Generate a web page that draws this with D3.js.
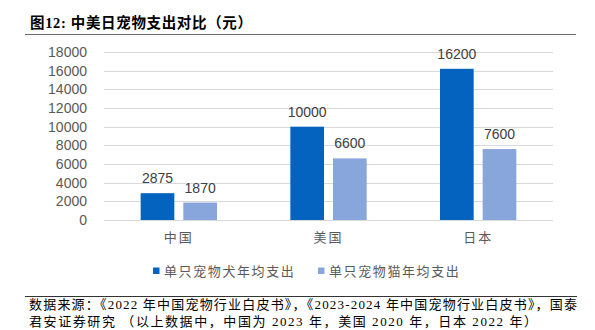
<!DOCTYPE html>
<html><head><meta charset="utf-8">
<script src="https://cdn.jsdelivr.net/npm/d3@7"></script>
<style>
html,body{margin:0;padding:0;background:#fff;}
svg{display:block;}
</style></head>
<body>
<svg id="c" width="595" height="330"></svg>
<script>
const categories = ["中国", "美国", "日本"];
const seriesNames = ["单只宠物犬年均支出", "单只宠物猫年均支出"];
const dogValues = [2875, 10000, 16200];
const catValues = [1870, 6600, 7600];
const yTicks = [0, 2000, 4000, 6000, 8000, 10000, 12000, 14000, 16000, 18000];
const colors = ["#0563C0", "#88A6DC"];
const titleText = "图12:  中美日宠物支出对比（元）";
const sourceLines = [
  "数据来源：《2022 年中国宠物行业白皮书》，《2023-2024 年中国宠物行业白皮书》，国泰",
  "君安证券研究 （以上数据中，中国为 2023 年，美国 2020 年，日本 2022 年）"
];

const svg = d3.select("#c");
const cjkSerif = "'Liberation Serif','Noto Sans CJK SC',serif";
const cjk = "'Noto Sans CJK SC',sans-serif";

// title
svg.append("text").attr("x", 30).attr("y", 28)
  .attr("font-family", cjkSerif).attr("font-weight", "bold")
  .attr("font-size", 14.5).attr("fill", "#000")
  .attr("textLength", 222).attr("lengthAdjust", "spacing").text(titleText);
svg.append("line").attr("x1", 25).attr("x2", 576).attr("y1", 34.5).attr("y2", 34.5)
  .attr("stroke", "#6e6e6e").attr("stroke-width", 1.2);

const x0 = d3.scaleBand().domain(categories).range([104, 553]).padding(0);
const y = d3.scaleLinear().domain([0, 18000]).range([220, 52]);
const barW = x0.bandwidth() * 0.225;
const gap = 9;

// gridlines
svg.append("g").selectAll("line").data(yTicks).join("line")
  .attr("x1", 104).attr("x2", 553)
  .attr("y1", d => Math.round(y(d)) + 0.5).attr("y2", d => Math.round(y(d)) + 0.5)
  .attr("stroke", "#d9d9d9").attr("stroke-width", 1);

// y axis labels
const yAxis = d3.axisLeft(y).tickValues(yTicks).tickSize(0).tickPadding(0).tickFormat(d3.format("d"));
const ga = svg.append("g").attr("transform", "translate(87,0)").call(yAxis);
ga.select(".domain").remove();
ga.selectAll("text").attr("font-family", "'Liberation Sans',Arial,sans-serif")
  .attr("font-size", 14).attr("fill", "#595959");

const series = [dogValues, catValues];
series.forEach((vals, si) => {
  const g = svg.append("g");
  const xs = c => x0(c) + x0.bandwidth() / 2 + (si === 0 ? -gap / 2 - barW : gap / 2);
  g.selectAll("rect").data(categories).join("rect")
    .attr("x", c => xs(c)).attr("width", barW)
    .attr("y", (c, i) => y(vals[i])).attr("height", (c, i) => y(0) - y(vals[i]))
    .attr("fill", colors[si]);
  g.selectAll("text").data(categories).join("text")
    .attr("x", c => xs(c) + barW / 2).attr("y", (c, i) => y(vals[i]) - 10)
    .attr("text-anchor", "middle")
    .attr("font-family", "'Liberation Sans',Arial,sans-serif")
    .attr("font-size", 14).attr("fill", "#404040")
    .text((c, i) => vals[i]);
});

// category labels
svg.append("g").selectAll("text").data(categories).join("text")
  .attr("x", c => x0(c) + x0.bandwidth() / 2).attr("y", 242)
  .attr("text-anchor", "middle").attr("font-family", cjk)
  .attr("font-size", 13).attr("letter-spacing", 2).attr("fill", "#595959")
  .text(c => c);

// legend
const legX = [153, 318];
seriesNames.forEach((n, i) => {
  svg.append("rect").attr("x", legX[i]).attr("y", 267.5).attr("width", 6.5).attr("height", 6.5).attr("fill", colors[i]);
  svg.append("text").attr("x", legX[i] + 11).attr("y", 276)
    .attr("font-family", cjk).attr("font-size", 13).attr("letter-spacing", 1.6)
    .attr("fill", "#595959").text(n);
});

// source
svg.append("line").attr("x1", 25).attr("x2", 577).attr("y1", 296.5).attr("y2", 296.5)
  .attr("stroke", "#333").attr("stroke-width", 1);
sourceLines.forEach((t, i) => {
  const el = svg.append("text").attr("x", 29).attr("y", 309 + i * 17)
    .attr("font-family", cjkSerif).attr("font-size", 13).attr("fill", "#000").text(t);
  el.attr("textLength", i === 0 ? 548 : 508).attr("lengthAdjust", "spacing");
});
</script>
</body></html>
